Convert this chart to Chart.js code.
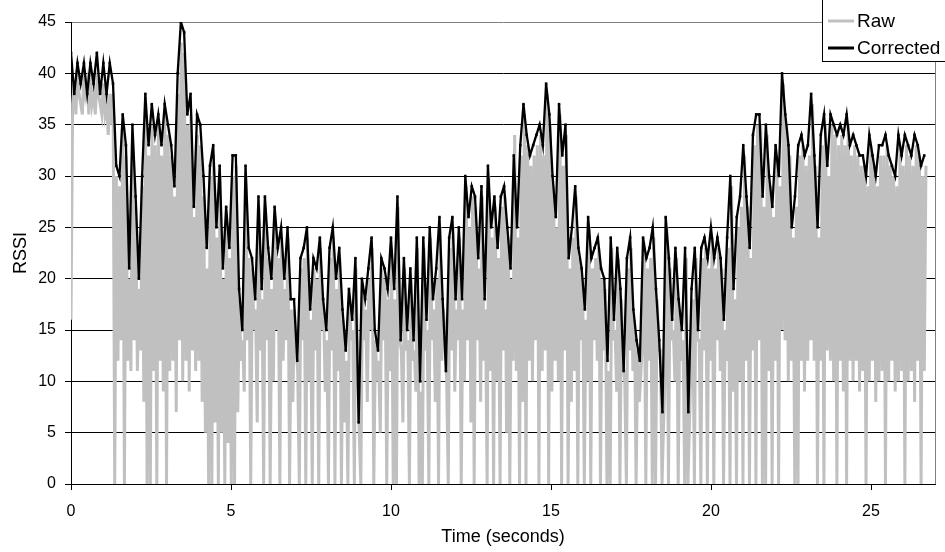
<!DOCTYPE html>
<html>
<head>
<meta charset="utf-8">
<script src="https://cdn.jsdelivr.net/npm/chart.js@4.4.0/dist/chart.umd.min.js"></script>
<style>
html,body{margin:0;padding:0;background:#fff;}
#wrap{width:945px;height:552px;position:relative;}
</style>
</head>
<body>
<div id="wrap"><canvas id="c" width="945" height="552"></canvas></div>
<script>
// ---- data ----
const xTicks = [0, 5, 10, 15, 20, 25];
const yTicks = [0, 5, 10, 15, 20, 25, 30, 35, 40, 45];
const seriesNames = ["Raw", "Corrected"];
const corrStep = 0.101;   // seconds between corrected samples
const rawStep = 0.0506;   // seconds between raw samples

const corrected = [
  42,38,41,39,41,38,41,39,42,38,
  41,38,41,39,31,30,36,33,21,35,
  28,20,30,38,33,37,34,36,33,37,
  35,33,29,40,45,44,36,38,27,36,
  35,30,23,31,33,25,31,21,27,23,
  32,32,19,15,31,23,22,18,28,19,
  28,23,20,27,23,25,20,25,18,18,
  12,22,23,25,17,22,21,24,18,15,
  23,25,20,23,17,13,19,16,22,6,
  20,18,21,24,15,13,22,21,19,24,
  19,28,14,22,15,21,14,24,10,24,
  16,25,18,21,26,18,11,24,26,18,
  25,18,30,26,29,28,22,29,18,31,
  25,28,23,28,29,25,21,32,25,33,
  37,34,32,33,34,35,33,39,36,30,
  26,37,32,35,22,25,29,23,21,17,
  26,22,23,24,21,20,12,24,16,23,
  19,11,22,24,17,14,12,24,22,23,
  25,19,14,7,26,22,16,23,18,15,
  23,7,19,23,15,23,24,22,25,22,
  24,22,16,24,30,19,26,28,33,28,
  23,34,36,36,28,35,30,27,33,30,
  40,36,33,25,28,33,34,32,33,38,
  32,25,34,36,31,36,35,34,35,34,
  36,33,34,33,32,32,30,34,32,30,
  33,33,34,32,31,30,34,32,34,33,
  32,34,33,31,32
];

const raw = [
  16,37,39,36,40,38,37,36,40,38,39,36,40,37,38,36,39,38,37,36,
  39,36,37,34,38,35,38,0,30,12,29,14,35,0,32,12,20,11,34,14,
  27,11,19,13,29,8,36,0,32,0,35,11,33,0,35,12,32,9,36,0,
  34,11,32,12,28,7,38,14,43,10,42,12,35,9,36,13,26,11,34,12,
  33,8,28,5,21,0,30,0,32,6,24,0,30,5,20,0,26,4,22,0,
  30,0,31,7,18,12,14,9,30,14,22,0,21,15,17,6,27,13,18,0,
  27,14,22,0,19,10,26,15,22,0,24,12,19,14,24,0,17,8,17,13,
  11,0,21,14,22,0,24,10,16,0,21,13,20,0,23,15,17,9,14,0,
  22,13,24,0,19,11,22,0,16,6,12,0,18,14,15,0,21,12,5,0,
  19,14,17,8,20,15,23,0,14,10,12,5,21,14,20,0,18,11,23,0,
  18,0,27,14,13,6,21,13,14,0,20,12,13,9,23,0,9,0,23,13,
  15,0,24,14,17,8,20,0,25,12,17,15,10,0,23,13,25,9,17,14,
  24,0,17,10,29,14,25,6,28,0,27,14,21,8,28,12,17,0,30,11,
  24,0,27,10,22,0,27,13,28,5,24,0,20,12,34,11,24,0,32,8,
  36,0,33,12,31,10,32,14,33,0,34,11,32,13,38,0,35,9,29,12,
  25,10,36,0,31,13,34,0,21,8,24,11,28,0,22,14,20,0,16,10,
  25,0,21,14,22,12,23,0,20,13,19,0,11,0,23,14,15,9,22,0,
  18,12,10,0,21,13,23,11,16,0,13,8,11,14,23,0,21,12,22,0,
  24,0,18,13,13,0,6,11,25,0,21,14,15,10,22,0,17,12,14,0,
  22,0,6,12,18,0,22,14,14,0,22,13,23,0,21,12,24,0,21,14,
  23,11,21,0,15,12,23,0,29,9,18,0,25,10,27,0,32,12,27,0,
  22,13,33,0,35,14,35,0,27,0,34,11,29,0,26,12,32,0,29,15,
  39,14,35,10,32,12,24,0,27,0,32,12,33,9,31,12,32,14,37,12,
  31,0,24,12,33,0,35,13,30,12,35,10,34,0,33,12,34,9,33,0,
  35,12,32,10,33,12,32,9,31,11,31,0,29,10,33,12,31,8,29,10,
  32,11,32,0,33,10,31,12,30,9,29,10,33,11,31,0,33,10,32,11,
  31,8,33,12,32,0,30,11,31
];

// ---- build chart ----
const FONT = "'Liberation Sans', Arial, sans-serif";
const rawPts = raw.map((v, i) => ({x: i * rawStep, y: v}));
const corrPts = corrected.map((v, i) => ({x: i * corrStep, y: v}));

const legendPlugin = {
  id: 'boxLegend',
  afterDraw(chart) {
    const ctx = chart.ctx;
    const a = chart.chartArea;
    ctx.save();
    // right border of plot area
    ctx.strokeStyle = '#808080';
    ctx.lineWidth = 1;
    ctx.beginPath();
    ctx.moveTo(Math.round(a.right) + 0.5, a.top);
    ctx.lineTo(Math.round(a.right) + 0.5, a.bottom);
    ctx.stroke();
    // legend box
    ctx.fillStyle = '#fff';
    ctx.fillRect(822.5, -1, 125, 62.5);
    ctx.strokeStyle = '#000';
    ctx.strokeRect(822.5, -1, 125, 62.5);
    const items = [
      {name: seriesNames[0], color: '#c0c0c0', y: 21},
      {name: seriesNames[1], color: '#000000', y: 48}
    ];
    items.forEach(it => {
      ctx.strokeStyle = it.color;
      ctx.lineWidth = 3;
      ctx.beginPath();
      ctx.moveTo(828, it.y);
      ctx.lineTo(854, it.y);
      ctx.stroke();
      ctx.fillStyle = '#000';
      ctx.font = '19px ' + FONT;
      ctx.textBaseline = 'middle';
      ctx.textAlign = 'left';
      ctx.fillText(it.name, 857, it.y + 1);
    });
    ctx.restore();
  }
};

new Chart(document.getElementById('c'), {
  type: 'line',
  data: {
    datasets: [
      {
        label: seriesNames[0],
        data: rawPts,
        borderColor: '#c0c0c0',
        borderWidth: 3,
        pointRadius: 0,
        tension: 0,
        order: 2
      },
      {
        label: seriesNames[1],
        data: corrPts,
        borderColor: '#000000',
        backgroundColor: '#000000',
        borderWidth: 2.3,
        pointRadius: 1.8,
        pointStyle: 'rect',
        pointBorderWidth: 0,
        pointBackgroundColor: '#000000',
        tension: 0,
        order: 1
      }
    ]
  },
  options: {
    responsive: false,
    devicePixelRatio: 1,
    animation: false,
    events: [],
    layout: {padding: {left: 0, right: 10, top: 22, bottom: 0}},
    plugins: {legend: {display: false}, tooltip: {enabled: false}},
    scales: {
      x: {
        type: 'linear',
        min: 0,
        max: 27,
        afterBuildTicks: s => { s.ticks = xTicks.map(v => ({value: v})); },
        afterFit: s => { s.height = 68; },
        grid: {drawOnChartArea: false, drawTicks: true, tickLength: 6, tickColor: '#000'},
        border: {display: true, color: '#000', width: 1},
        ticks: {color: '#000', font: {family: FONT, size: 16}, padding: 12, maxRotation: 0},
        title: {display: true, text: 'Time (seconds)', color: '#000', font: {family: FONT, size: 18}, padding: {top: 0, bottom: 4}}
      },
      y: {
        type: 'linear',
        min: 0,
        max: 45,
        afterBuildTicks: s => { s.ticks = yTicks.map(v => ({value: v})); },
        afterFit: s => { s.width = 71; },
        grid: {
          color: c => (c.tick && c.tick.value === 45) ? '#808080' : '#000',
          lineWidth: 1,
          tickLength: 6,
          tickColor: '#000'
        },
        border: {display: true, color: '#000', width: 1},
        ticks: {color: '#000', font: {family: FONT, size: 16}, padding: 9},
        title: {display: true, text: 'RSSI', color: '#000', font: {family: FONT, size: 18}, padding: {top: 10, bottom: 0}}
      }
    }
  },
  plugins: [legendPlugin]
});
</script>
</body>
</html>
